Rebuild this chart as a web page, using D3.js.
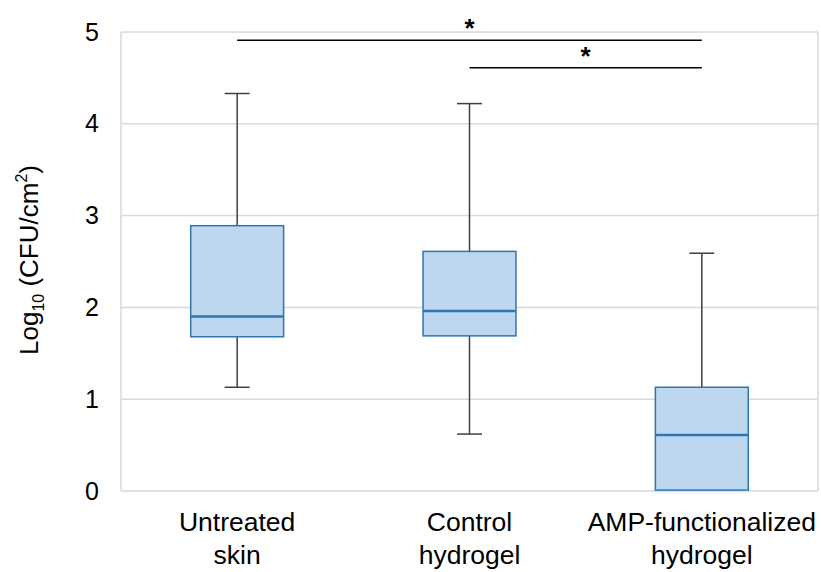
<!DOCTYPE html>
<html>
<head>
<meta charset="utf-8">
<script src="https://cdn.jsdelivr.net/npm/d3@7"></script>
<style>
  body { margin: 0; background: #fff; }
  text { font-family: "Liberation Sans", Arial, sans-serif; fill: #000; }
</style>
</head>
<body>
<div class="chart"></div>
<script>
// data
const categories = [["Untreated", "skin"], ["Control", "hydrogel"], ["AMP-functionalized", "hydrogel"]]
const whiskerHigh = [4.33, 4.22, 2.59]
const q3 = [2.89, 2.61, 1.13]
const median = [1.90, 1.96, 0.61]
const q1 = [1.68, 1.69, 0.01]
const whiskerLow = [1.13, 0.62, 0.01]
const yTicks = [0, 1, 2, 3, 4, 5]
// significance brackets: [from index, to index, height, label]
const brackets = [[0, 2, 4.91, "*"], [1, 2, 4.61, "*"]]

let svgWidth = 821
let svgHeight = 572
let margin = { left: 121, right: 3, top: 32, bottom: 81 }
let width = svgWidth - margin.left - margin.right
let height = svgHeight - margin.top - margin.bottom

let svg = d3.select('.chart')
    .append('svg')
    .attr('width', svgWidth)
    .attr('height', svgHeight)
    .append('g')
    .attr('transform', `translate(${margin.left},${margin.top})`)

let xScale = d3.scaleBand()
    .domain(d3.range(categories.length))
    .range([0, width])

let yScale = d3.scaleLinear()
    .domain([0, 5])
    .range([height, 0])

// gridlines
svg.append('g')
    .selectAll('line')
    .data(yTicks)
    .join('line')
    .attr('x1', 0)
    .attr('x2', width)
    .attr('y1', d => yScale(d))
    .attr('y2', d => yScale(d))
    .attr('stroke', '#d9d9d9')
    .attr('stroke-width', 1.5)

// plot frame left/right
svg.append('line').attr('x1', 0).attr('x2', 0).attr('y1', 0).attr('y2', height)
    .attr('stroke', '#d9d9d9').attr('stroke-width', 1.5)
svg.append('line').attr('x1', width).attr('x2', width).attr('y1', 0).attr('y2', height)
    .attr('stroke', '#d9d9d9').attr('stroke-width', 1.5)

// y axis
let yAxis = d3.axisLeft(yScale).tickValues(yTicks).tickSize(0).tickPadding(22)
    .tickFormat(d3.format("d"))
svg.append('g')
    .attr('id', 'y-axis')
    .call(yAxis)
    .call(g => g.select('.domain').remove())
    .selectAll('text')
    .style('font-size', '25px')
    .attr('font-family', null)

// x labels
let xLabels = svg.append('g')
    .selectAll('text')
    .data(categories)
    .join('text')
    .attr('x', (d, i) => xScale(i) + xScale.bandwidth() / 2)
    .attr('y', height + 40)
    .attr('text-anchor', 'middle')
    .style('font-size', '26.5px')
xLabels.each(function(d) {
    d3.select(this).selectAll('tspan')
        .data(d)
        .join('tspan')
        .attr('x', d3.select(this).attr('x'))
        .attr('dy', (t, j) => j === 0 ? 0 : 33)
        .text(t => t)
})

// y title
let yTitle = svg.append('text')
    .attr('transform', `translate(${-83},${228}) rotate(-90)`)
    .attr('text-anchor', 'middle')
    .style('font-size', '26px')
yTitle.append('tspan').text('Log')
yTitle.append('tspan').text('10').style('font-size', '16px').attr('dy', 6)
yTitle.append('tspan').text(' (CFU/cm').attr('dy', -6)
yTitle.append('tspan').text('2').style('font-size', '16px').attr('dy', -11)
yTitle.append('tspan').text(')').attr('dy', 11)

// boxes
let boxW = xScale.bandwidth() * 0.4
let capW = 25
let boxes = svg.append('g')
    .selectAll('g')
    .data(categories.map((c, i) => i))
    .join('g')
    .attr('transform', i => `translate(${xScale(i) + xScale.bandwidth() / 2},0)`)

boxes.append('line')
    .attr('y1', i => yScale(whiskerHigh[i]))
    .attr('y2', i => yScale(q3[i]))
    .attr('stroke', '#404040').attr('stroke-width', 1.5)
boxes.append('line')
    .attr('y1', i => yScale(whiskerLow[i]))
    .attr('y2', i => yScale(q1[i]))
    .attr('stroke', '#404040').attr('stroke-width', 1.5)
boxes.append('line')
    .attr('x1', -capW / 2).attr('x2', capW / 2)
    .attr('y1', i => yScale(whiskerHigh[i]))
    .attr('y2', i => yScale(whiskerHigh[i]))
    .attr('stroke', '#404040').attr('stroke-width', 1.5)
boxes.append('line')
    .attr('x1', -capW / 2).attr('x2', capW / 2)
    .attr('y1', i => yScale(whiskerLow[i]))
    .attr('y2', i => yScale(whiskerLow[i]))
    .attr('stroke', '#404040').attr('stroke-width', 1.5)
    .attr('display', i => whiskerLow[i] === q1[i] ? 'none' : null)
boxes.append('rect')
    .attr('x', -boxW / 2)
    .attr('width', boxW)
    .attr('y', i => yScale(q3[i]))
    .attr('height', i => yScale(q1[i]) - yScale(q3[i]))
    .attr('fill', '#bdd7ee')
    .attr('stroke', '#2e75b6')
    .attr('stroke-width', 1.5)
boxes.append('line')
    .attr('x1', -boxW / 2).attr('x2', boxW / 2)
    .attr('y1', i => yScale(median[i]))
    .attr('y2', i => yScale(median[i]))
    .attr('stroke', '#2e75b6').attr('stroke-width', 2.5)

// significance brackets
let sig = svg.append('g')
    .selectAll('g')
    .data(brackets)
    .join('g')
sig.append('line')
    .attr('x1', d => xScale(d[0]) + xScale.bandwidth() / 2)
    .attr('x2', d => xScale(d[1]) + xScale.bandwidth() / 2)
    .attr('y1', d => yScale(d[2]))
    .attr('y2', d => yScale(d[2]))
    .attr('stroke', '#000').attr('stroke-width', 1.5)
sig.append('text')
    .attr('x', d => (xScale(d[0]) + xScale(d[1]) + xScale.bandwidth()) / 2)
    .attr('y', d => yScale(d[2]) - 3)
    .attr('text-anchor', 'middle')
    .style('font-size', '26px')
    .style('font-weight', 'bold')
    .text(d => d[3])
</script>
</body>
</html>
